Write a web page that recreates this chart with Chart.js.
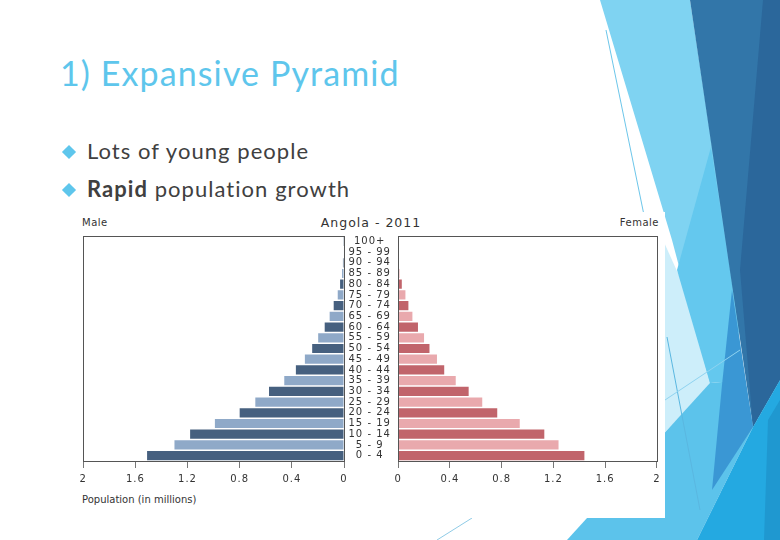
<!DOCTYPE html>
<html>
<head>
<meta charset="utf-8">
<script src="https://cdn.jsdelivr.net/npm/chart.js@4"></script>
<style>
  html, body { margin:0; padding:0; width:780px; height:540px; overflow:hidden; background:#fff; }
  #deco { position:absolute; left:0; top:0; }
  .title { position:absolute; left:60px; top:52px; font-family:Lato, sans-serif; font-size:34px; letter-spacing:1.1px; color:#5ec6ec; white-space:nowrap; line-height:normal; }
  .bullet { position:absolute; left:87px; font-family:Lato, sans-serif; font-size:22px; letter-spacing:1.05px; color:#404040; white-space:nowrap; line-height:normal; }
  .dia { position:absolute; width:10px; height:10px; background:#5ec6ec; transform:rotate(45deg); }
  #imgbox { position:absolute; left:75px; top:212px; width:590px; height:306px; background:#fff; }
  .lbl { position:absolute; font-family:"DejaVu Sans", sans-serif; color:#333; white-space:nowrap; }
  canvas { position:absolute; }
</style>
</head>
<body>
<svg id="deco" width="780" height="540" viewBox="0 0 780 540">
  <polygon points="663,240 690,300 712,383 665,432" fill="#cdeefa"/>
  <polygon points="600,0 690,0 740,330 710,383 672,240" fill="#7fd3f2"/>
  <polygon points="711,147 730,270 745,380 710,383 677,270" fill="#64c8ee"/>
  <polygon points="567,540 710,383 745,380 753,427 697,540" fill="#5cc3eb"/>
  <polygon points="690,0 780,0 780,380 753,427" fill="#3276a9"/>
  <polygon points="763,0 780,0 780,380 753,427 740,270" fill="#2b679b"/>
  <polygon points="732,290 753,427 712,490 722,385" fill="#3a97d4"/>
  <polygon points="753,427 780,380 780,540 697,540" fill="#24a9e1"/>
  <polygon points="768,420 780,400 780,540 764,540" fill="#1f98d0"/>
  <line x1="606" y1="30" x2="645" y2="220" stroke="#6cc6ea" stroke-width="1"/>
  <line x1="667" y1="337" x2="700" y2="510" stroke="#5ab7e0" stroke-width="1"/>
  <line x1="665" y1="400" x2="740" y2="350" stroke="#8fd3f0" stroke-width="1"/>
  <line x1="437" y1="540" x2="472" y2="518" stroke="#8fcbe6" stroke-width="1"/>
</svg>

<div class="title">1) Expansive Pyramid</div>
<div class="dia" style="left:64px; top:147px;"></div>
<div class="bullet" style="top:137px;">Lots of young people</div>
<div class="dia" style="left:64px; top:185px;"></div>
<div class="bullet" style="top:175px;"><b>Rapid</b> population growth</div>

<div id="imgbox"></div>
<div class="lbl" style="left:82px; top:217px; font-size:10px; letter-spacing:0.5px;">Male</div>
<div class="lbl" style="left:271px; width:200px; text-align:center; top:215px; font-size:12.5px; letter-spacing:1px;">Angola - 2011</div>
<div class="lbl" style="left:559px; width:100px; text-align:right; top:217px; font-size:10px; letter-spacing:0.5px;">Female</div>
<div class="lbl" style="left:82px; top:494px; font-size:10px;">Population (in millions)</div>

<canvas id="male" width="323" height="306" style="left:75px; top:212px;"></canvas>
<canvas id="female" width="275" height="306" style="left:390px; top:212px;"></canvas>

<script>
// ---- data ----
const ageGroups = ['0 - 4','5 - 9','10 - 14','15 - 19','20 - 24','25 - 29','30 - 34','35 - 39',
  '40 - 44','45 - 49','50 - 54','55 - 59','60 - 64','65 - 69','70 - 74','75 - 79','80 - 84',
  '85 - 89','90 - 94','95 - 99','100+'];
const maleValues = [1.51, 1.30, 1.18, 0.99, 0.80, 0.68, 0.575, 0.458, 0.369, 0.30, 0.244,
  0.198, 0.148, 0.11, 0.079, 0.048, 0.03, 0.015, 0.008, 0.004, 0.002];
const femaleValues = [1.44, 1.24, 1.13, 0.94, 0.766, 0.65, 0.545, 0.445, 0.356, 0.30, 0.242,
  0.20, 0.153, 0.11, 0.079, 0.056, 0.028, 0.01, 0.005, 0.003, 0.001];
const xMin = 0, xMax = 2, xStep = 0.4;

// ---- styles ----
const MALE_DARK = '#46607f', MALE_LIGHT = '#8fa9c8';
const FEMALE_DARK = '#c1646b', FEMALE_LIGHT = '#e9a9ad';
const TXT = '#333';
const tickFont = { family: 'DejaVu Sans', size: 10 };
const fmt = v => String(Number(Number(v).toFixed(1)));

const spacingPlugin = {
  id: 'spacing',
  beforeDraw(chart) { chart.ctx.letterSpacing = '1px'; }
};

const framePlugin = {
  id: 'frame',
  afterDraw(chart) {
    const { ctx, chartArea: a } = chart;
    ctx.save();
    ctx.strokeStyle = '#555';
    ctx.lineWidth = 1;
    ctx.strokeRect(Math.round(a.left) + 0.5, Math.round(a.top) + 0.5,
      Math.round(a.right - a.left), Math.round(a.bottom - a.top));
    ctx.restore();
  }
};

function xScale(reverse) {
  return {
    reverse, min: xMin, max: xMax,
    ticks: { stepSize: xStep, callback: v => fmt(v), font: tickFont, color: TXT, padding: 5, maxRotation: 0, autoSkip: false },
    grid: { drawOnChartArea: false, drawTicks: true, tickLength: 7, color: '#777' },
    border: { display: false },
    afterFit: s => { s.height = 57; }
  };
}

new Chart(document.getElementById('male'), {
  type: 'bar',
  data: {
    labels: ageGroups,
    datasets: [{
      data: maleValues,
      backgroundColor: ageGroups.map((_, i) => i % 2 === 0 ? MALE_DARK : MALE_LIGHT),
      categoryPercentage: 0.86, barPercentage: 1
    }]
  },
  options: {
    indexAxis: 'y', responsive: false, animation: false,
    layout: { padding: { left: 7, top: 24, right: 0, bottom: 0 } },
    plugins: { legend: { display: false }, tooltip: { enabled: false } },
    scales: {
      x: xScale(true),
      y: {
        position: 'right', reverse: true,
        ticks: { font: tickFont, color: TXT, crossAlign: 'center', padding: 0, autoSkip: false },
        grid: { display: false }, border: { display: false },
        afterFit: s => { s.width = 54; }
      }
    }
  },
  plugins: [spacingPlugin, framePlugin]
});

new Chart(document.getElementById('female'), {
  type: 'bar',
  data: {
    labels: ageGroups,
    datasets: [{
      data: femaleValues,
      backgroundColor: ageGroups.map((_, i) => i % 2 === 0 ? FEMALE_DARK : FEMALE_LIGHT),
      categoryPercentage: 0.86, barPercentage: 1
    }]
  },
  options: {
    indexAxis: 'y', responsive: false, animation: false,
    layout: { padding: { left: 8, top: 24, right: 6, bottom: 0 } },
    plugins: { legend: { display: false }, tooltip: { enabled: false } },
    scales: {
      x: xScale(false),
      y: { display: false, reverse: true }
    }
  },
  plugins: [spacingPlugin, framePlugin]
});
</script>
</body>
</html>
